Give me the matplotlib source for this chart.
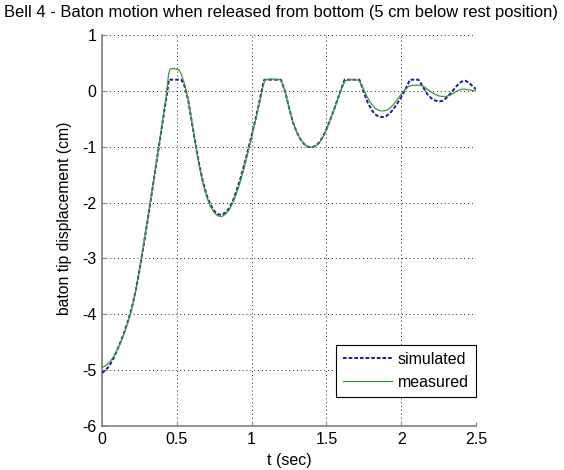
import matplotlib
matplotlib.use("Agg")
import matplotlib.pyplot as plt

plt.rcParams['font.family'] = ['Liberation Sans', 'DejaVu Sans']

# Simulated baton tip displacement (cm) vs time (s)
t_sim = [0.0, 0.025, 0.05, 0.075, 0.1, 0.125, 0.15, 0.175, 0.2, 0.225, 0.25, 0.275,
         0.3, 0.325, 0.35, 0.375, 0.4, 0.425, 0.437, 0.447, 0.475, 0.5, 0.53,
         0.55, 0.575, 0.6, 0.625, 0.65, 0.675, 0.7, 0.725, 0.75, 0.775, 0.8,
         0.825, 0.85, 0.875, 0.9, 0.925, 0.95, 0.975, 1.0, 1.025, 1.05, 1.075,
         1.085, 1.12, 1.15, 1.195, 1.2, 1.225, 1.25, 1.275, 1.3, 1.325, 1.35,
         1.375, 1.4, 1.425, 1.45, 1.475, 1.5, 1.525, 1.55, 1.575, 1.6, 1.622,
         1.65, 1.69, 1.72, 1.735, 1.75, 1.775, 1.8, 1.825, 1.85, 1.875, 1.9,
         1.925, 1.95, 1.975, 2.0, 2.025, 2.05, 2.057, 2.09, 2.115, 2.13, 2.15,
         2.175, 2.2, 2.225, 2.25, 2.275, 2.3, 2.325, 2.35, 2.375, 2.4, 2.415,
         2.43, 2.45, 2.475, 2.5]
y_sim = [-5.05, -5.0, -4.92, -4.8, -4.65, -4.49, -4.31, -4.11, -3.88, -3.58, -3.22, -2.82,
         -2.4, -1.97, -1.53, -1.09, -0.65, -0.21, 0.0, 0.2, 0.2, 0.2, 0.2,
         0.1, -0.15, -0.55, -0.95, -1.32, -1.63, -1.87, -2.04, -2.15, -2.21, -2.22,
         -2.18, -2.1, -1.97, -1.78, -1.57, -1.33, -1.07, -0.8, -0.52, -0.22, 0.1,
         0.2, 0.2, 0.2, 0.2, 0.17, -0.02, -0.3, -0.55, -0.73, -0.86, -0.95,
         -1.0, -1.01, -0.99, -0.93, -0.83, -0.69, -0.52, -0.34, -0.15, 0.04, 0.2,
         0.2, 0.2, 0.2, 0.1, -0.03, -0.2, -0.33, -0.42, -0.46, -0.47, -0.45,
         -0.4, -0.32, -0.22, -0.11, 0.01, 0.15, 0.2, 0.2, 0.2, 0.14, 0.05,
         -0.06, -0.13, -0.17, -0.19, -0.18, -0.13, -0.06, 0.02, 0.1, 0.16, 0.18,
         0.18, 0.15, 0.09, 0.03]

# Measured baton tip displacement (cm) vs time (s)
t_meas = [0.0, 0.025, 0.05, 0.075, 0.1, 0.125, 0.15, 0.175, 0.2, 0.225, 0.25, 0.275,
          0.3, 0.325, 0.35, 0.375, 0.4, 0.425, 0.437, 0.445, 0.455, 0.475, 0.5, 0.515,
          0.53, 0.55, 0.575, 0.6, 0.625, 0.65, 0.675, 0.7, 0.725, 0.75, 0.775, 0.8,
          0.825, 0.85, 0.875, 0.9, 0.925, 0.95, 0.975, 1.0, 1.025, 1.05, 1.075,
          1.09, 1.12, 1.15, 1.19, 1.2, 1.225, 1.25, 1.275, 1.3, 1.325, 1.35,
          1.375, 1.4, 1.425, 1.45, 1.475, 1.5, 1.525, 1.55, 1.575, 1.6, 1.625,
          1.65, 1.69, 1.715, 1.735, 1.75, 1.775, 1.8, 1.825, 1.85, 1.875, 1.9,
          1.925, 1.95, 1.975, 2.0, 2.025, 2.05, 2.075, 2.1, 2.125, 2.15, 2.175,
          2.2, 2.225, 2.25, 2.275, 2.3, 2.325, 2.35, 2.375, 2.4, 2.425, 2.45,
          2.475, 2.5]
y_meas = [-4.95, -4.92, -4.86, -4.77, -4.65, -4.5, -4.33, -4.13, -3.9, -3.58, -3.2, -2.8,
          -2.38, -1.95, -1.52, -1.08, -0.63, -0.17, 0.1, 0.3, 0.39, 0.4, 0.39, 0.37,
          0.3, 0.14, -0.14, -0.55, -0.96, -1.34, -1.66, -1.9, -2.07, -2.18, -2.24, -2.25,
          -2.21, -2.13, -2.0, -1.83, -1.62, -1.38, -1.11, -0.83, -0.54, -0.25, 0.07,
          0.2, 0.21, 0.21, 0.2, 0.17, -0.02, -0.3, -0.55, -0.73, -0.86, -0.95,
          -1.0, -1.01, -0.99, -0.94, -0.84, -0.7, -0.53, -0.35, -0.16, 0.03, 0.18,
          0.2, 0.2, 0.19, 0.11, 0.02, -0.12, -0.23, -0.31, -0.35, -0.36, -0.35,
          -0.31, -0.24, -0.15, -0.06, 0.02, 0.08, 0.1, 0.1, 0.1, 0.08, 0.03,
          -0.02, -0.06, -0.09, -0.1, -0.1, -0.08, -0.04, 0.0, 0.03, 0.03, 0.02,
          0.01, 0.0]

x_ticks = [0, 0.5, 1, 1.5, 2, 2.5]
x_ticklabels = ['0', '0.5', '1', '1.5', '2', '2.5']
y_ticks = [-6, -5, -4, -3, -2, -1, 0, 1]
y_ticklabels = ['-6', '-5', '-4', '-3', '-2', '-1', '0', '1']

fig = plt.figure(figsize=(5.64, 4.70), dpi=100)
ax = fig.add_axes([102 / 564, 44 / 470, 374 / 564, 391 / 470])

ax.plot(t_sim, y_sim, color='#1c1c96', linestyle=(0, (1.9, 1.0)), linewidth=1.4,
        label='simulated', zorder=3)
ax.plot(t_meas, y_meas, color='#3c963c', linewidth=0.9, label='measured', zorder=4)

ax.set_xlim(0, 2.5)
ax.set_ylim(-6, 1)
ax.set_xticks(x_ticks)
ax.set_xticklabels(x_ticklabels)
ax.set_yticks(y_ticks)
ax.set_yticklabels(y_ticklabels)
ax.tick_params(direction='in', length=3, width=0.8, color='#808080',
               labelsize=11.5, pad=4, top=False, right=False)

ax.grid(True, color='#222222', linestyle=(0, (1, 3)), linewidth=0.7)
ax.set_axisbelow(True)
for side in ('top', 'right'):
    ax.spines[side].set_visible(False)
for side in ('left', 'bottom'):
    ax.spines[side].set_color('#808080')
    ax.spines[side].set_linewidth(1.2)

ax.set_xlabel('t (sec)', fontsize=11.5, labelpad=5)
ax.set_ylabel('baton tip displacement (cm)', fontsize=11.3)
ax.yaxis.set_label_coords(-0.08, 0.532)
fig.text(281 / 564, 1 - 12 / 470,
         'Bell 4 - Baton motion when released from bottom (5 cm below rest position)',
         ha='center', va='center', fontsize=11.9)

leg = ax.legend(loc='lower right', bbox_to_anchor=(1.0, 0.074), borderaxespad=0,
                fontsize=11.5, fancybox=False, framealpha=1, edgecolor='black',
                handlelength=3.1, handletextpad=0.35, borderpad=0.45, labelspacing=0.5)
leg.get_frame().set_linewidth(0.8)

fig.savefig('out.png', dpi=100)
